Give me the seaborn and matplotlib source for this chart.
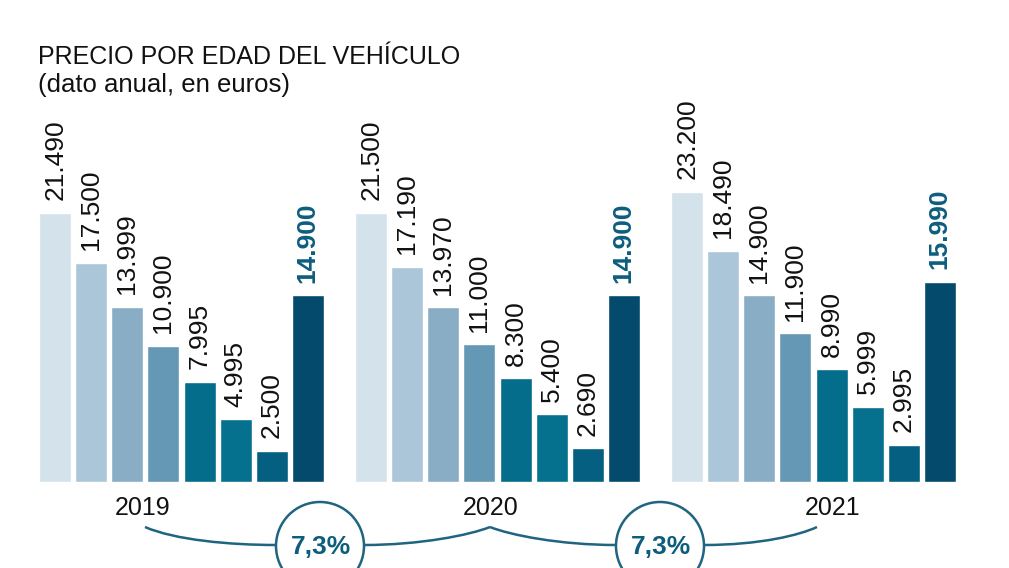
import numpy as np
import pandas as pd
import matplotlib
matplotlib.use("Agg")
import matplotlib.pyplot as plt
from matplotlib.path import Path
from matplotlib.patches import PathPatch, Circle
import seaborn as sns

# ---- data ----
years = ["2019", "2020", "2021"]
categories = ["c1", "c2", "c3", "c4", "c5", "c6", "c7", "total"]
values_2019 = [21490, 17500, 13999, 10900, 7995, 4995, 2500, 14900]
values_2020 = [21500, 17190, 13970, 11000, 8300, 5400, 2690, 14900]
values_2021 = [23200, 18490, 14900, 11900, 8990, 5999, 2995, 15990]
growth_labels = ["7,3%", "7,3%"]
title = "PRECIO POR EDAD DEL VEHÍCULO"
subtitle = "(dato anual, en euros)"

palette = ["#d3e2eb", "#abc6d8", "#88adc4", "#6598b4",
           "#036d8b", "#06708f", "#055f80", "#034a6c"]
accent = "#0d5d7c"

rows = []
for y, vals in zip(years, [values_2019, values_2020, values_2021]):
    for c, v in zip(categories, vals):
        rows.append({"year": y, "cat": c, "value": v})
df = pd.DataFrame(rows)

sns.set_theme(style="white")
plt.rcParams["font.family"] = ["Liberation Sans", "DejaVu Sans"]

W, H = 1009, 568
fig = plt.figure(figsize=(W / 100, H / 100), dpi=100)
fig.patch.set_facecolor("white")
ax = fig.add_axes([0, 0, 1, 1])
sns.barplot(data=df, x="year", y="value", hue="cat", hue_order=categories,
            palette=palette, width=0.914, gap=0.114, legend=False,
            saturation=1, ax=ax, errorbar=None)

# map data coordinates to pixel layout
px_per_unit = 316.0
center0 = 181.5
ax.set_xlim(-center0 / px_per_unit, (W - center0) / px_per_unit)
base = 482.0
eur_per_px = 21490 / 269.0
ax.set_ylim(-(H - base) * eur_per_px, base * eur_per_px)
ax.axis("off")

def fmt(v):
    return f"{v:,.0f}".replace(",", ".")

for i, cont in enumerate(ax.containers):
    labels = ax.bar_label(cont, labels=[fmt(v) for v in cont.datavalues],
                          rotation=90, padding=9, fontsize=19,
                          color="#111111")
    if i == len(ax.containers) - 1:
        for t in labels:
            t.set_fontweight("bold")
            t.set_color(accent)

# overlay in pixel coordinates for annotations
ov = fig.add_axes([0, 0, 1, 1])
ov.set_xlim(0, W)
ov.set_ylim(H, 0)
ov.axis("off")
ov.patch.set_alpha(0)

fig.text(38 / W, 1 - 64 / H, title, fontsize=18, color="#111111",
         ha="left", va="baseline")
fig.text(38 / W, 1 - 92 / H, subtitle, fontsize=18.5, color="#111111",
         ha="left", va="baseline")

year_x = [143, 491, 833]
for yx, yl in zip(year_x, years):
    ov.text(yx, 508, yl, fontsize=18, ha="center", va="center", color="#111111")

line_c = "#1f6480"
curves = [
    [(145, 527), (175, 540), (230, 545), (276, 545)],
    [(364, 545), (420, 545), (470, 535), (490, 527)],
    [(490, 527), (510, 535), (560, 545), (616, 545)],
    [(704, 545), (760, 545), (800, 535), (817, 527)],
]
for pts in curves:
    p = Path(pts, [Path.MOVETO, Path.CURVE4, Path.CURVE4, Path.CURVE4])
    ov.add_patch(PathPatch(p, fill=False, edgecolor=line_c, lw=1.8))

for cx, gl in zip([320, 660], growth_labels):
    ov.add_patch(Circle((cx, 546), 44, fill=False, edgecolor=line_c, lw=1.8))
    ov.text(cx + 1, 547, gl, fontsize=19, fontweight="bold", color=accent,
            ha="center", va="center")

fig.savefig("out.png", dpi=100)
